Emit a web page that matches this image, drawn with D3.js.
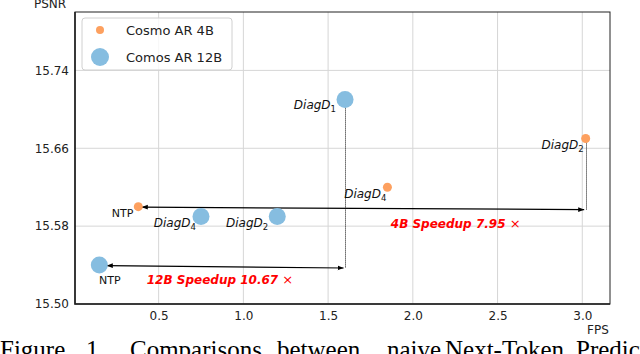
<!DOCTYPE html>
<html>
<head>
<meta charset="utf-8">
<script src="https://cdn.jsdelivr.net/npm/d3@7"></script>
<style>
  body { margin: 0; background: #fff; }
  svg { display: block; font-family: "DejaVu Sans", sans-serif; }
</style>
</head>
<body>
<div class="chart"></div>
<script>
// data
var series = ["Cosmo AR 4B", "Comos AR 12B"];
var names4B = ["NTP", "DiagD4", "DiagD2"];
var fps4B = [0.38, 1.85, 3.02];
var psnr4B = [15.60, 15.62, 15.67];
var names12B = ["NTP", "DiagD4", "DiagD2", "DiagD1"];
var fps12B = [0.15, 0.75, 1.20, 1.60];
var psnr12B = [15.54, 15.59, 15.59, 15.71];
var speedups = ["4B Speedup 7.95", "12B Speedup 10.67"];
var speedupX = [1.87, 0.43];
var speedupY = [15.578, 15.521];
var arrowEndY = [15.597, 15.537];
var xTicks = [0.5, 1.0, 1.5, 2.0, 2.5, 3.0];
var yTicks = [15.50, 15.58, 15.66, 15.74];
var captionWords = ["Figure", "1.", "Comparisons", "between", "naive", "Next-Token", "Prediction"];

var width = 640, height = 354;
var plotL = 75, plotR = 610, plotT = 12, plotB = 304;
var colors = ["#fda05f", "#86bde0"];
var radius = [4.5, 8.5];

var svg = d3.select(".chart").append("svg")
  .attr("width", width).attr("height", height);

var x = d3.scaleLinear().domain([0.0065, 3.1635]).range([plotL, plotR]);
var y = d3.scaleLinear().domain([15.50, 15.80]).range([plotB, plotT]);

// grid
svg.append("g").selectAll("line").data(xTicks).join("line")
  .attr("x1", d => x(d)).attr("x2", d => x(d))
  .attr("y1", plotT).attr("y2", plotB)
  .attr("stroke", "#d6d6d6").attr("stroke-width", 1);
svg.append("g").selectAll("line").data(yTicks).join("line")
  .attr("x1", plotL).attr("x2", plotR)
  .attr("y1", d => y(d)).attr("y2", d => y(d))
  .attr("stroke", "#d6d6d6").attr("stroke-width", 1);

// axes
var xAxis = svg.append("g")
  .attr("transform", "translate(0," + plotB + ")")
  .call(d3.axisBottom(x).tickValues(xTicks).tickFormat(d3.format(".1f")).tickSize(0).tickPadding(7));
var yAxis = svg.append("g")
  .attr("transform", "translate(" + plotL + ",0)")
  .call(d3.axisLeft(y).tickValues(yTicks).tickFormat(d3.format(".2f")).tickSize(0).tickPadding(6));
[xAxis, yAxis].forEach(function(g) {
  g.select(".domain").remove();
  g.selectAll("text").attr("font-size", 12).attr("fill", "#222")
    .attr("font-family", "DejaVu Sans, sans-serif");
});

// frame
svg.append("rect")
  .attr("x", plotL).attr("y", plotT)
  .attr("width", plotR - plotL).attr("height", plotB - plotT)
  .attr("fill", "none").attr("stroke", "#222").attr("stroke-width", 1);
svg.append("path")
  .attr("d", "M" + plotL + "," + plotT + "V" + plotB + "H" + plotR)
  .attr("fill", "none").attr("stroke", "#222").attr("stroke-width", 1.6);

svg.append("text").attr("x", 50).attr("y", 8).attr("text-anchor", "middle")
  .attr("font-size", 12).attr("fill", "#222").text("PSNR");
svg.append("text").attr("x", 598).attr("y", 334).attr("text-anchor", "middle")
  .attr("font-size", 12).attr("fill", "#222").text("FPS");

// arrows
var defs = svg.append("defs");
defs.append("marker").attr("id", "head")
  .attr("viewBox", "0 0 10 10").attr("refX", 10).attr("refY", 5)
  .attr("markerWidth", 6).attr("markerHeight", 6)
  .attr("markerUnits", "userSpaceOnUse")
  .attr("orient", "auto-start-reverse")
  .append("path").attr("d", "M0,1L10,5L0,9z").attr("fill", "#000");

var groups = [
  { fps: fps4B, psnr: psnr4B, names: names4B },
  { fps: fps12B, psnr: psnr12B, names: names12B }
];

groups.forEach(function(g, i) {
  var ntpX = g.fps[0], ntpY = g.psnr[0];
  var fast = d3.maxIndex(g.fps);
  var fx = Math.round(x(g.fps[fast])) + 0.5;
  // dotted drop from fastest point
  svg.append("line")
    .attr("x1", fx).attr("x2", fx)
    .attr("y1", y(g.psnr[fast])).attr("y2", y(arrowEndY[i]))
    .attr("stroke", "#111").attr("stroke-width", 1)
    .attr("stroke-dasharray", "1,1");
  svg.append("line")
    .attr("x1", x(ntpX) + radius[i] - 1).attr("y1", y(ntpY) + 0.5)
    .attr("x2", x(g.fps[fast]) - 1.5).attr("y2", y(arrowEndY[i]))
    .attr("stroke", "#000").attr("stroke-width", 1.2)
    .attr("marker-start", "url(#head)").attr("marker-end", "url(#head)");
});

// points
groups.forEach(function(g, i) {
  svg.append("g").selectAll("circle").data(g.fps).join("circle")
    .attr("cx", d => x(d)).attr("cy", (d, j) => y(g.psnr[j]))
    .attr("r", radius[i]).attr("fill", colors[i]);
});

// point labels: [dx, dy, anchor]
var labelPos = [
  [[-5, 10, "end"], [-1, 11, "end"], [-2, 10, "end"]],
  [[10.5, 19, "middle"], [-5, 11, "end"], [-9, 11, "end"], [-9, 9, "end"]]
];
groups.forEach(function(g, i) {
  g.names.forEach(function(name, j) {
    var p = labelPos[i][j];
    var t = svg.append("text")
      .attr("x", x(g.fps[j]) + p[0]).attr("y", y(g.psnr[j]) + p[1])
      .attr("text-anchor", p[2]).attr("fill", "#111");
    if (name === "NTP") {
      t.attr("font-size", 11).text(name);
    } else {
      t.append("tspan").attr("font-size", 12).attr("font-style", "italic")
        .text(name.slice(0, -1));
      t.append("tspan").attr("font-size", 8.5).attr("font-style", "normal")
        .attr("dy", 3).text(name.slice(-1));
    }
  });
});

// speedup notes
speedups.forEach(function(s, i) {
  var t = svg.append("text")
    .attr("x", x(speedupX[i])).attr("y", y(speedupY[i]))
    .attr("fill", "#ff0000").attr("font-size", 12);
  t.append("tspan").attr("font-weight", "bold").attr("font-style", "italic").text(s);
  t.append("tspan").attr("font-size", 13).text(" \u00d7");
});

// legend
var legend = svg.append("g");
legend.append("rect")
  .attr("x", 82).attr("y", 18).attr("width", 150).attr("height", 52)
  .attr("rx", 3).attr("fill", "#fff").attr("fill-opacity", 0.8)
  .attr("stroke", "#d0d0d0");
series.forEach(function(s, i) {
  legend.append("circle").attr("cx", 100).attr("cy", 30 + i * 27)
    .attr("r", i ? 9 : 4).attr("fill", colors[i]);
  legend.append("text").attr("x", 126).attr("y", 30 + i * 27)
    .attr("dy", "0.35em").attr("font-size", 13).attr("fill", "#222").text(s);
});

// caption under the figure (cut by the page edge)
var capX = [0, 86, 130, 277, 387, 445, 576];
svg.append("g").selectAll("text").data(captionWords).join("text")
  .attr("x", (d, i) => capX[i]).attr("y", 358)
  .attr("font-family", "Liberation Serif, serif").attr("font-size", 25)
  .attr("fill", "#000").text(d => d);
</script>
</body>
</html>
